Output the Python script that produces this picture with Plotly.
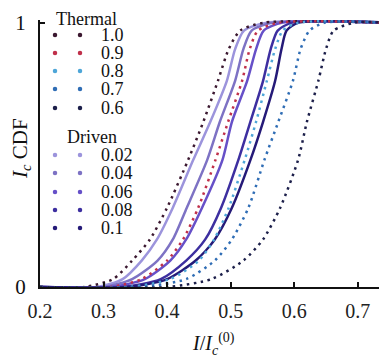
import plotly.graph_objects as go

# ---------------- data ----------------
cdf_levels = [0, 0, 0.03, 0.1, 0.18, 0.3, 0.48, 0.625, 0.78, 0.9, 0.97, 1, 1]

thermal_labels = ["1.0", "0.9", "0.8", "0.7", "0.6"]
thermal_1_0 = [0.2, 0.27, 0.315, 0.345, 0.373, 0.400, 0.433, 0.457, 0.480, 0.497, 0.515, 0.553, 0.746]
thermal_0_9 = [0.2, 0.31, 0.360, 0.400, 0.425, 0.449, 0.476, 0.496, 0.518, 0.530, 0.543, 0.577, 0.746]
thermal_0_8 = [0.2, 0.34, 0.405, 0.450, 0.474, 0.497, 0.522, 0.540, 0.557, 0.570, 0.582, 0.607, 0.746]
thermal_0_7 = [0.2, 0.36, 0.430, 0.475, 0.502, 0.528, 0.553, 0.575, 0.598, 0.610, 0.624, 0.648, 0.746]
thermal_0_6 = [0.2, 0.40, 0.470, 0.520, 0.551, 0.578, 0.606, 0.620, 0.638, 0.650, 0.662, 0.695, 0.746]

driven_labels = ["0.02", "0.04", "0.06", "0.08", "0.1"]
driven_0_02 = [0.2, 0.29, 0.330, 0.360, 0.384, 0.409, 0.441, 0.468, 0.494, 0.507, 0.521, 0.557, 0.746]
driven_0_04 = [0.2, 0.30, 0.345, 0.385, 0.409, 0.431, 0.463, 0.483, 0.507, 0.520, 0.533, 0.567, 0.746]
driven_0_06 = [0.2, 0.31, 0.365, 0.405, 0.430, 0.455, 0.487, 0.502, 0.526, 0.540, 0.552, 0.582, 0.746]
driven_0_08 = [0.2, 0.33, 0.390, 0.430, 0.460, 0.485, 0.512, 0.531, 0.551, 0.563, 0.574, 0.597, 0.746]
driven_0_1 = [0.2, 0.34, 0.400, 0.445, 0.475, 0.502, 0.531, 0.551, 0.570, 0.580, 0.588, 0.607, 0.746]

x_tick_vals = [0.2, 0.3, 0.4, 0.5, 0.6, 0.7]
x_tick_text = ["0.2", "0.3", "0.4", "0.5", "0.6", "0.7"]
y_tick_vals = [0, 1]
y_tick_text = ["0", "1"]

# ---------------- styles ----------------
thermal_series = [thermal_1_0, thermal_0_9, thermal_0_8, thermal_0_7, thermal_0_6]
driven_series = [driven_0_02, driven_0_04, driven_0_06, driven_0_08, driven_0_1]
thermal_colors = ["#3b1830", "#c0304a", "#4ea6d8", "#2f6db5", "#1c1f4a"]
driven_colors = ["#9c94dc", "#7d72c4", "#6650c8", "#3d2fa0", "#251a78"]

FONT = "Liberation Serif"
TXT = "#111"

# page is offset by the default 8px body margin
PAGE_OFF = 8
PLOT_L, PLOT_R, PLOT_T, PLOT_B = 40, 387, 20, 287


def px_to_paper(px, py):
    return ((px - PLOT_L) / (PLOT_R - PLOT_L), (PLOT_B - py) / (PLOT_B - PLOT_T))


fig = go.Figure()

for lab, xs, col in zip(driven_labels, driven_series, driven_colors):
    fig.add_trace(go.Scatter(x=xs, y=cdf_levels, mode="lines", name=lab,
                             line=dict(color=col, width=2.5, shape="spline", smoothing=0.7),
                             showlegend=False))

for lab, xs, col in zip(thermal_labels, thermal_series, thermal_colors):
    fig.add_trace(go.Scatter(x=xs, y=cdf_levels, mode="lines", name=lab,
                             line=dict(color=col, width=2.5, shape="spline", smoothing=0.7,
                                       dash="2.5px,4.5px"),
                             showlegend=False))

# ---------------- custom legend on an overlay axis in page-pixel units ----------------
legend_dot_x = [55, 80]
thermal_rows = [35, 53, 71, 89, 108]
driven_rows = [155, 173, 192, 210, 228]

for rows, cols, labs in [(thermal_rows, thermal_colors, thermal_labels),
                         (driven_rows, driven_colors, driven_labels)]:
    for ry, col, lab in zip(rows, cols, labs):
        fig.add_trace(go.Scatter(x=legend_dot_x, y=[ry, ry], mode="markers",
                                 marker=dict(color=col, size=4.5), xaxis="x2", yaxis="y2",
                                 showlegend=False, hoverinfo="skip"))
        ax, ay = px_to_paper(99, ry)
        fig.add_annotation(x=ax, y=ay, xref="paper", yref="paper", text=lab, showarrow=False,
                           xanchor="left", yanchor="middle",
                           font=dict(family=FONT, size=18, color=TXT))

for txt, px, py in [("Thermal", 54, 19), ("Driven", 65, 137)]:
    ax, ay = px_to_paper(px, py)
    fig.add_annotation(x=ax, y=ay, xref="paper", yref="paper", text=txt, showarrow=False,
                       xanchor="left", yanchor="middle", font=dict(family=FONT, size=18, color=TXT))

# axis titles
ax, ay = px_to_paper(21, 149)
fig.add_annotation(x=ax, y=ay, xref="paper", yref="paper",
                   text="<i>I</i><sub><i>c</i></sub> CDF", showarrow=False, textangle=-90,
                   xanchor="center", yanchor="middle", font=dict(family=FONT, size=21, color=TXT))
ax, ay = px_to_paper(213, 344)
fig.add_annotation(x=ax, y=ay, xref="paper", yref="paper",
                   text="<i>I</i>/<i>I</i><sub><i>c</i></sub><sup>(0)</sup>", showarrow=False,
                   xanchor="center", yanchor="middle", font=dict(family=FONT, size=20, color=TXT))

fig.update_layout(
    width=387 - PAGE_OFF, height=358 - PAGE_OFF,
    margin=dict(l=PLOT_L - PAGE_OFF, r=0, t=PLOT_T - PAGE_OFF, b=358 - PLOT_B),
    paper_bgcolor="white", plot_bgcolor="white",
    font=dict(family=FONT, color=TXT),
    xaxis=dict(range=[0.2, 0.746], tickvals=x_tick_vals, ticktext=x_tick_text,
               ticks="inside", ticklen=5, tickwidth=1.5, tickcolor=TXT, ticklabelstandoff=5,
               showline=True, linecolor=TXT, linewidth=2, showgrid=False, zeroline=False,
               tickfont=dict(family=FONT, size=20, color="#222")),
    yaxis=dict(range=[0, 1.01], tickvals=y_tick_vals, ticktext=y_tick_text,
               ticks="inside", ticklen=5, tickwidth=1.5, tickcolor=TXT, ticklabelstandoff=8,
               showline=True, linecolor=TXT, linewidth=2, showgrid=False, zeroline=False,
               tickfont=dict(family=FONT, size=21, color=TXT)),
    xaxis2=dict(range=[PLOT_L, PLOT_R], overlaying="x", visible=False),
    yaxis2=dict(range=[PLOT_B, PLOT_T], overlaying="y", visible=False),
    showlegend=False,
)

fig.write_html("out.html")
